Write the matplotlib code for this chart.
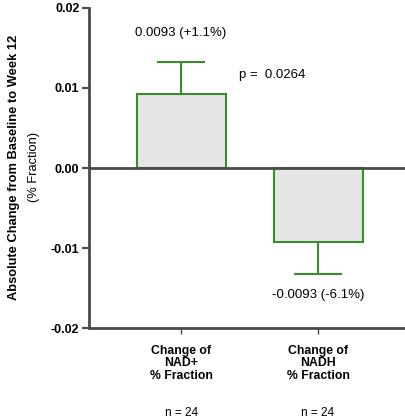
import numpy as np
import matplotlib
matplotlib.use('Agg')
import matplotlib.pyplot as plt

plt.rcParams['font.family'] = ['Liberation Sans', 'DejaVu Sans']

# Data
categories = ['Change of\nNAD+\n% Fraction', 'Change of\nNADH\n% Fraction']
means = [0.0093, -0.0093]
sems = [0.0040, 0.0040]
value_labels = ['0.0093 (+1.1%)', '-0.0093 (-6.1%)']
n_labels = ['n = 24', 'n = 24']
p_text = 'p =  0.0264'
yticks = [-0.02, -0.01, 0.00, 0.01, 0.02]
ytick_labels = ['-0.02', '-0.01', '0.00', '0.01', '0.02']

green = '#3d8b2f'
axis_col = '#4a4a4a'

fig = plt.figure(figsize=(4.05, 4.18), dpi=100)
ax = fig.add_axes([0.22, 0.215, 0.78, 0.766])

x = np.arange(len(categories))
ax.bar(x, means, width=0.65, color='#e6e6e6', edgecolor=green, linewidth=1.5, zorder=2)

# one-sided error bars (away from zero)
for xi, m, s in zip(x, means, sems):
    tip = m + np.sign(m) * s
    ax.plot([xi, xi], [m, tip], color=green, lw=1.5, zorder=3)
    ax.plot([xi - 0.17, xi + 0.17], [tip, tip], color=green, lw=1.5, zorder=3)

ax.axhline(0, color=axis_col, lw=2, zorder=4)

ax.set_xlim(-0.672, 1.635)
ax.set_ylim(-0.02, 0.02)
ax.set_yticks(yticks)
ax.set_yticklabels(ytick_labels, fontsize=9, fontweight='bold')
ax.set_xticks(x)
ax.set_xticklabels(categories, fontsize=8.8, fontweight='bold', linespacing=1.05)

for s in ['top', 'right']:
    ax.spines[s].set_visible(False)
for s in ['left', 'bottom']:
    ax.spines[s].set_color(axis_col)
    ax.spines[s].set_linewidth(2)
ax.tick_params(axis='y', length=5, width=1.5, color=axis_col, pad=2)
ax.tick_params(axis='x', length=4, width=1, color=axis_col, pad=8)

# annotations
ax.text(0, 0.0169, value_labels[0], ha='center', va='center', fontsize=9.5)
ax.text(1, -0.0159, value_labels[1], ha='center', va='center', fontsize=9.5)
ax.text(0.42, 0.0116, p_text, ha='left', va='center', fontsize=9.5)
for xi, nl in zip(x, n_labels):
    ax.text(xi, -0.0306, nl, ha='center', va='center', fontsize=8.5)

fig.text(0.035, 0.6, 'Absolute Change from Baseline to Week 12', rotation=90,
         ha='center', va='center', fontsize=9.3, fontweight='bold')
fig.text(0.085, 0.6, '(% Fraction)', rotation=90, ha='center', va='center', fontsize=9.3)

fig.savefig('out.png', dpi=100)
